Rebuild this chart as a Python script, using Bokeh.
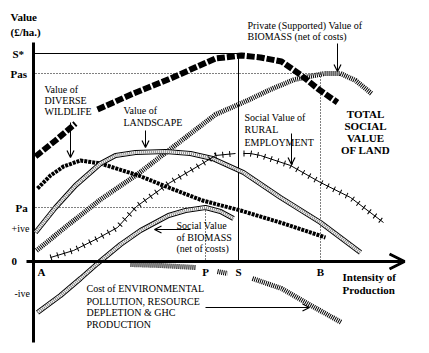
import numpy as np
from bokeh.plotting import figure
from bokeh.models import Range1d, Arrow, OpenHead, ColumnDataSource
from bokeh.core.properties import value
from bokeh.embed import file_html
from bokeh.resources import INLINE

nan = float("nan")

# ---- data: intensity of production (x) vs value in £/ha (y) ----
total_x = [2, 22, 42, nan, 64, 100, 137, 182, 208, 227, 248, 268, 284, 304]
total_y = [105, 121, 138, nan, 152, 168, 183, 203, 206, 204, 200, 186, 173, 159]
private_x = [3, 34, 67, 105, 135, 182, 214, 237, 261, 291, 307, 322, 338]
private_y = [11, 36, 62, 88, 111, 147, 161, 172, 182, 188, 188, 181, 168]
wildlife_x = [4, 17, 30, 47, 67, 105, 135, 169, 207, 250, 292]
wildlife_y = [73, 86, 95, 101, 98, 86, 74, 61, 51, 38, 24]
landscape_x = [2, 22, 42, 67, 82, 102, 132, 157, 179, 210, 247, 287, 327]
landscape_y = [29, 54, 76, 98, 106, 109, 110, 108, 103, 89, 64, 39, 9]
rural_x = [17, 40, 64, 84, 103, 135, 169, 182, 202, nan, 210, 217, 227, 257, 287, 317, 350]
rural_y = [4, 11, 23, 34, 55, 78, 98, 106, 108, nan, 108, 108, 106, 96, 79, 64, 39]
social_bio_x = [4, 27, 47, 64, 87, 107, 135, 152, 172, 187, 200]
social_bio_y = [-51, -34, -17, -2, 17, 31, 46, 51, 54, 50, 43]
cost_x = [97, 127, 162, nan, 184, 194, nan, 219, 248, 274, 308]
cost_y = [-3, -4, -6, nan, -10, -12, nan, -17, -27, -42, -61]

# key levels on the value axis and points on the intensity axis
y_levels = [208, 188, 54, 33, 0, -32]
y_labels = ["S*", "Pas", "Pa", "+ive", "0", "-ive"]
x_points = [8, 172, 205, 287]
x_labels = ["A", "P", "S", "B"]
S_STAR, PAS, PA = 208, 188, 54
X_P, X_S, X_B = 172, 205, 287

SERIF = value("Liberation Serif")

p = figure(width=429, height=353, x_range=Range1d(-33, 396), y_range=Range1d(-92, 261),
           toolbar_location=None, output_backend="svg", min_border=0,
           x_axis_location=None, y_axis_location=None, outline_line_color=None)
p.xgrid.visible = False
p.ygrid.visible = False
p.background_fill_color = "white"
p.border_fill_color = "white"

# axes drawn as thick lines
p.segment(x0=[0], y0=[-81], x1=[0], y1=[219], line_color="black", line_width=3)
p.add_layout(Arrow(end=OpenHead(size=15, line_width=3, line_color="black"),
                   x_start=-7, y_start=0, x_end=371, y_end=0, line_width=3, line_color="black"))

# reference lines
p.segment(x0=[1, X_S], y0=[S_STAR, S_STAR], x1=[X_S, X_S], y1=[S_STAR, 0],
          line_color="black", line_width=1)
p.segment(x0=[2, X_B, 2, X_P], y0=[PAS, PAS, PA, PA], x1=[X_B, X_B, X_P, X_P], y1=[PAS, 0, PA, 0],
          line_color="black", line_width=1, line_dash="1 2")

# curves
p.line(total_x, total_y, line_color="black", line_width=6, line_dash="8 2")
p.line(private_x, private_y, line_color="black", line_width=5, line_dash="1 1")
p.line(wildlife_x, wildlife_y, line_color="black", line_width=4, line_dash="3 1")
for xs, ys in [(landscape_x, landscape_y), (social_bio_x, social_bio_y)]:
    p.line(xs, ys, line_color="black", line_width=5)
    p.line(xs, ys, line_color="white", line_width=3)
    p.line(xs, ys, line_color="#888888", line_width=3, line_dash="1 1")
p.line(rural_x, rural_y, line_color="black", line_width=1)
p.line(rural_x, rural_y, line_color="black", line_width=6, line_dash="1 6")
p.line(cost_x, cost_y, line_color="black", line_width=5, line_dash="1 1")

# label arrows
arrows = [(37, 139, 37, 104), (112, 131, 112, 114), (304, 218, 304, 190),
          (258, 128, 258, 97), (157, 32, 121, 32), (172, -46, 276, -46)]
for xs, ys, xe, ye in arrows:
    p.add_layout(Arrow(end=OpenHead(size=7, line_width=1.2, line_color="black"),
                       x_start=xs, y_start=ys, x_end=xe, y_end=ye,
                       line_width=1, line_color="black"))

def texts(xs, ys, labels, size="10px", style="normal", align="left"):
    src = ColumnDataSource(dict(x=xs, y=ys, t=labels))
    p.text(x="x", y="y", text="t", source=src, text_font=SERIF, text_font_size=size,
           text_font_style=style, text_baseline="middle", text_align=align, text_color="black")

# axis titles and tick labels
texts([-23, -23], [245, 230], ["Value", "(£/ha.)"], size="11px", style="bold")
bold_idx = [0, 1, 2, 4]
texts([-21, -23, -18, -22], [y_levels[i] for i in bold_idx], [y_labels[i] for i in bold_idx],
      size="11px", style="bold")
texts([-22, -19], [y_levels[3], y_levels[5]], [y_labels[3], y_labels[5]])
texts(x_points, [-10] * 4, x_labels, size="11px", style="bold", align="center")
texts([309, 309], [-15, -28], ["Intensity of", "Production"], size="11px", style="bold")

# annotations
texts([11, 11, 11], [172, 161, 150], ["Value of", "DIVERSE", "WILDLIFE"])
texts([90, 90], [151, 139], ["Value of", "LANDSCAPE"])
texts([214, 214], [236, 225], ["Private (Supported) Value of", "BIOMASS  (net of costs)"])
texts([211, 211, 211], [144, 132, 119], ["Social Value of", "RURAL", "EMPLOYMENT"])
texts([332, 332, 332, 332], [148, 136, 124, 112], ["TOTAL", "SOCIAL", "VALUE", "OF LAND"],
      size="11px", style="bold", align="center")
texts([143, 143, 143], [36, 24, 13], ["Social Value", "of BIOMASS", "(net of costs)"])
texts([53, 53, 53, 53], [-27, -40, -51, -63],
      ["Cost of ENVIRONMENTAL", "POLLUTION, RESOURCE", "DEPLETION & GHC", "PRODUCTION"])

open("out.html", "w").write(file_html(p, INLINE))
